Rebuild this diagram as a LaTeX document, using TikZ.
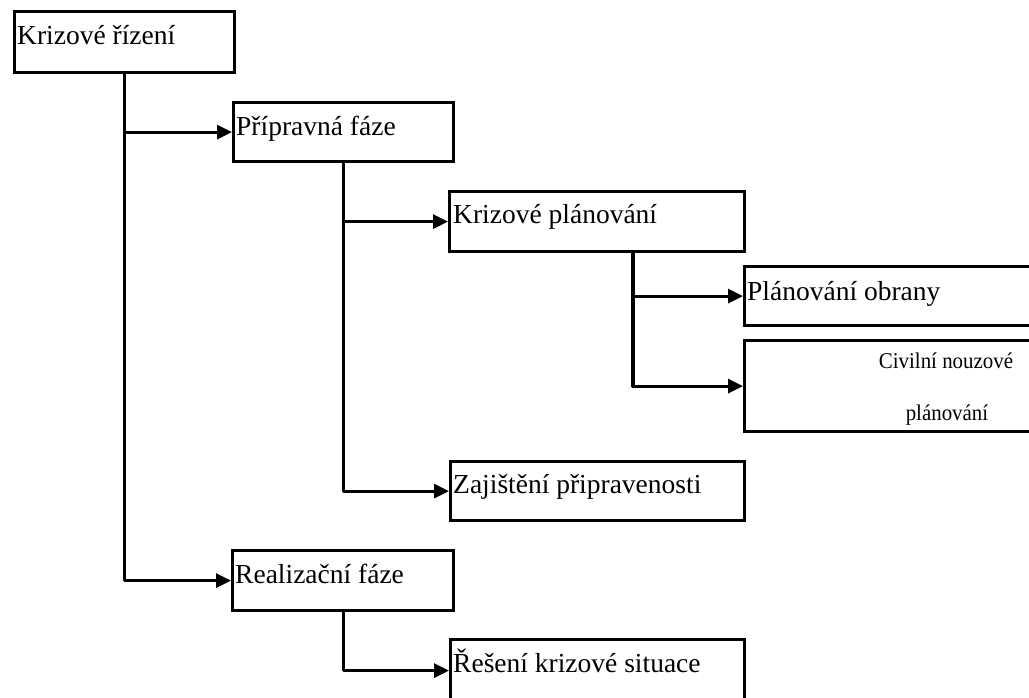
\documentclass[tikz,border=0pt]{standalone}
\usepackage{fontspec}
\setmainfont{Liberation Serif}
\usetikzlibrary{arrows.meta}
\tikzset{
  box/.style={draw=black, line width=3.2pt, fill=white, rectangle, inner sep=0pt, anchor=north west},
  txt/.style={anchor=base west, inner sep=0pt, font=\fontsize{27.5}{32}\selectfont},
  smalltxt/.style={anchor=base, inner sep=0pt, font=\fontsize{22.5}{26}\selectfont},
  conn/.style={draw=black, line width=3.2pt, line join=round, -{Triangle[length=15pt,width=14pt]}},
}
\begin{document}
\begin{tikzpicture}[x=1pt,y=-1pt]
\clip (0,0) rectangle (1029,697);
\fill[white] (0,0) rectangle (1029,697);
% boxes
\node[box, minimum width=220pt, minimum height=61pt] (b1) at (13,10) {};
\node[box, minimum width=220pt, minimum height=59pt] (b2) at (232,101) {};
\node[box, minimum width=295pt, minimum height=60pt] (b3) at (448,190) {};
\node[box, minimum width=300pt, minimum height=59pt] (b4) at (743,265) {};
\node[box, minimum width=300pt, minimum height=91pt] (b5) at (743,339) {};
\node[box, minimum width=294pt, minimum height=59pt] (b6) at (449,460) {};
\node[box, minimum width=221pt, minimum height=60pt] (b7) at (231,549) {};
\node[box, minimum width=294pt, minimum height=62pt] (b8) at (449,638) {};
% texts
\node[txt] (t1) at (17,44) {Krizové řízení};
\node[txt] (t2) at (236,135) {Přípravná fáze};
\node[txt] (t3) at (453,223) {Krizové plánování};
\node[txt] (t4) at (747,300) {Plánování obrany};
\node[smalltxt] (t5a) at (946,368) {\scalebox{0.93}[1]{Civilní nouzové}};
\node[smalltxt] (t5b) at (947,420) {\scalebox{0.93}[1]{plánování}};
\node[txt] (t6) at (453,493) {Zajištění připravenosti};
\node[txt] (t7) at (235,583) {Realizační fáze};
\node[txt] (t8) at (453,672) {Řešení krizové situace};
% connector columns
\coordinate (x3) at (633,0);
% connectors
\draw[conn] (b1.south) |- (b2.west);
\draw[conn] (b1.south) |- (b7.west);
\draw[conn] (b2.south) |- (b3.west);
\draw[conn] (b2.south) |- (b6.west);
\draw[conn] (b3.south -| x3) |- (b4.west);
\draw[conn] (b3.south -| x3) |- (b5.west);
\draw[conn] (b7.south) |- (b8.west);
\end{tikzpicture}
\end{document}
